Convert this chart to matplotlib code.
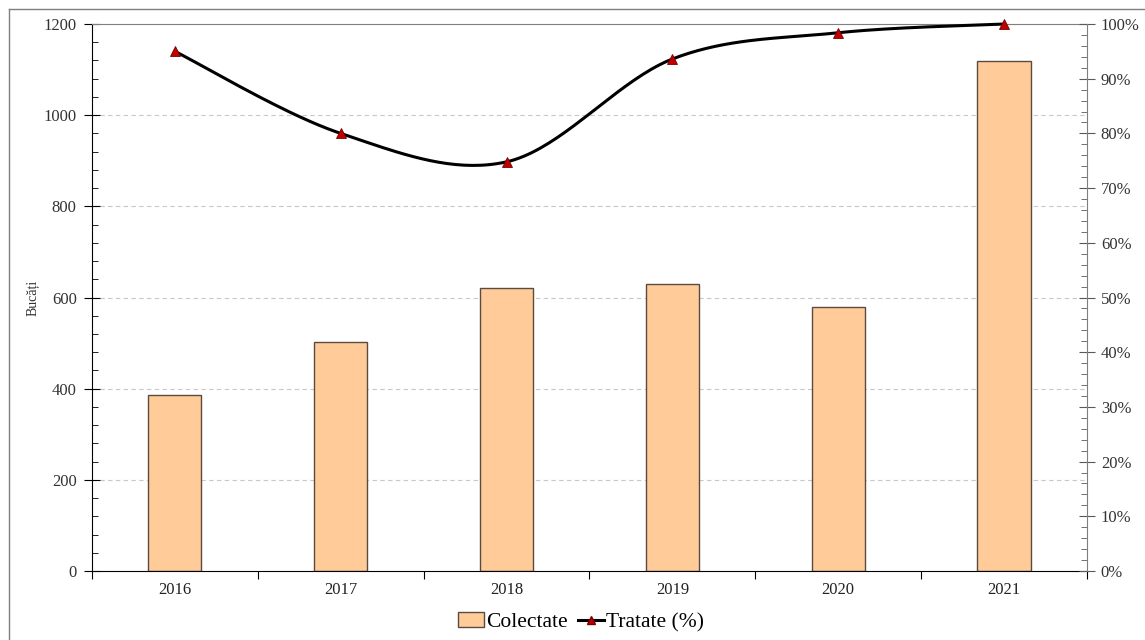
import numpy as np
import matplotlib.pyplot as plt
from matplotlib.lines import Line2D
from matplotlib.patches import Patch
from matplotlib.ticker import MultipleLocator, FuncFormatter

plt.rcParams['font.family'] = ['Liberation Serif', 'DejaVu Serif']

# Date
ani = ['2016', '2017', '2018', '2019', '2020', '2021']
colectate = [386, 502, 621, 629, 579, 1118]          # bucăți
tratate = [95.0, 80.0, 74.8, 93.6, 98.4, 100.0]     # procent

BAR_COLOR = '#FFCC99'
BAR_EDGE = '#5b4a42'
GREY = '#7f7f7f'


def linie_neteda(xs, ys, n=40):
    # curba Bezier prin puncte (netezire ca in Excel)
    pts = np.column_stack([xs, ys]).astype(float)
    out = [pts[0]]
    t = np.linspace(0, 1, n)[1:, None]
    for i in range(len(pts) - 1):
        p0 = pts[max(i - 1, 0)]
        p1 = pts[i]
        p2 = pts[i + 1]
        p3 = pts[min(i + 2, len(pts) - 1)]
        c1 = p1 + (p2 - p0) / 6
        c2 = p2 - (p3 - p1) / 6
        seg = (1 - t) ** 3 * p1 + 3 * (1 - t) ** 2 * t * c1 + 3 * (1 - t) * t ** 2 * c2 + t ** 3 * p2
        out.extend(seg)
    out = np.array(out)
    return out[:, 0], out[:, 1]


fig = plt.figure(figsize=(11.45, 6.4), dpi=100)
ax = fig.add_axes([0.0803, 0.1078, 0.8690, 0.8547])
x = np.arange(len(ani))

# Coloane - colectate
ax.bar(x, colectate, width=0.32, color=BAR_COLOR, edgecolor=BAR_EDGE, linewidth=1, zorder=2)
ax.set_xlim(-0.5, len(ani) - 0.5)
ax.set_ylim(0, 1200)
ax.yaxis.set_major_locator(MultipleLocator(200))
ax.yaxis.set_minor_locator(MultipleLocator(40))
ax.set_axisbelow(True)
for v in range(200, 1200, 200):
    ax.axhline(v, color='#c8c8c8', linestyle=(0, (4, 3)), linewidth=0.8, zorder=0)

ax.set_xticks(np.arange(-0.5, len(ani), 1))
ax.set_xticklabels([])
ax.set_xticks(x, minor=True)
ax.set_xticklabels(ani, minor=True)
ax.tick_params(axis='x', which='major', direction='out', length=6, color='black')
ax.tick_params(axis='x', which='minor', length=0, pad=8, labelsize=12, labelcolor='#222222')
ax.tick_params(axis='y', which='major', direction='inout', length=12, pad=5, labelsize=12, labelcolor='#333333')
ax.tick_params(axis='y', which='minor', direction='in', length=4)

ax.spines['top'].set_color(GREY)
ax.spines['right'].set_visible(False)

# Linie - tratate (%)
ax2 = ax.twinx()
ax2.set_ylim(0, 100)
ax2.yaxis.set_major_locator(MultipleLocator(10))
ax2.yaxis.set_minor_locator(MultipleLocator(2))
ax2.yaxis.set_major_formatter(FuncFormatter(lambda v, p: f'{v:.0f}%'))
ax2.tick_params(axis='y', which='major', direction='inout', length=12, pad=4, labelsize=12,
                color='#595959', labelcolor='#333333')
ax2.tick_params(axis='y', which='minor', direction='in', length=4, color='#595959')
for s in ['top', 'left', 'bottom']:
    ax2.spines[s].set_visible(False)
ax2.spines['right'].set_color(GREY)

xs, ys = linie_neteda(x, tratate)
ax2.plot(xs, ys, color='black', linewidth=2.2, solid_capstyle='round', zorder=3, clip_on=False)
ax2.plot(x, tratate, linestyle='none', marker='^', markersize=6.5, markerfacecolor='#c00000',
         markeredgecolor='#7a0000', markeredgewidth=0.6, zorder=4, clip_on=False)

fig.text(33 / 1145, 1 - 298 / 640, 'Bucăți', rotation=90, fontsize=10, ha='center', va='center',
         color='#333333')

handles = [
    Patch(facecolor=BAR_COLOR, edgecolor=BAR_EDGE, linewidth=1),
    Line2D([], [], color='black', linewidth=2.2, marker='^', markersize=5.5,
           markerfacecolor='#c00000', markeredgecolor='#7a0000'),
]
fig.legend(handles, ['Colectate', 'Tratate (%)'], loc='center',
           bbox_to_anchor=(581 / 1145, 1 - 622 / 640), ncol=2, frameon=False, fontsize=15.5,
           handlelength=1.2, handleheight=0.7, columnspacing=0.5, handletextpad=0.1)

# chenar exterior
fig.add_artist(Line2D([9 / 1145, 9 / 1145], [0, 1 - 8.5 / 640], transform=fig.transFigure,
                      color=GREY, linewidth=1))
fig.add_artist(Line2D([9 / 1145, 1], [1 - 8.5 / 640, 1 - 8.5 / 640], transform=fig.transFigure,
                      color=GREY, linewidth=1))

fig.savefig('out.png', dpi=100)
